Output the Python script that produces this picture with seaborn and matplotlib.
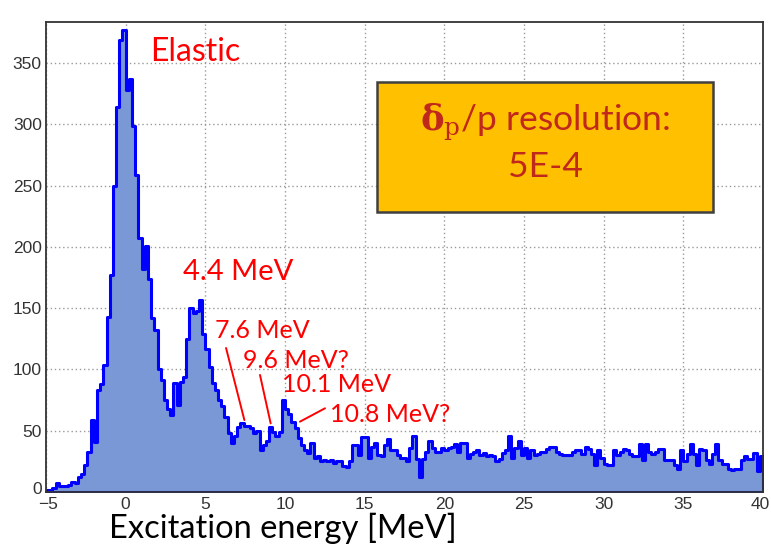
import numpy as np
import pandas as pd
import matplotlib
matplotlib.use("Agg")
import matplotlib.pyplot as plt
import matplotlib.transforms as mtransforms
import seaborn as sns
from matplotlib.patches import Rectangle
from matplotlib.ticker import MultipleLocator

# ---- data (counts per 0.2 MeV bin, starting at -5 MeV) ----
bin_start = -5.0
bin_width = 0.2

counts_elastic = [2, 2, 3, 7, 5, 5, 5, 6, 8, 7, 12, 15, 22, 33, 59, 41, 83, 88, 104,
                  143, 177, 250, 314, 369, 377, 328, 337, 299, 259, 207, 182, 201, 174,
                  142, 132, 100, 91, 75, 68, 63, 89, 71, 90, 94, 125, 150, 146, 148,
                  157, 129, 117, 102]
counts_excited = [89, 83, 75, 70, 61, 48, 40, 46, 53, 56,
                  54, 54, 52, 48, 50, 34, 38, 42, 53, 49,
                  46, 49, 75, 68, 64, 57, 52, 44, 38, 34,
                  32, 40, 28, 29, 25, 26, 25, 26, 24, 25,
                  25, 21, 20, 25, 38, 38, 30, 45]
counts_tail_a = [45, 28, 37, 40, 30, 29, 38, 43, 34, 34,
                 30, 28, 28, 25, 36, 46, 27, 12, 27, 33,
                 42, 36, 33, 33, 36, 34, 36, 37, 39, 33,
                 40, 40, 28, 31, 33, 34, 30, 32, 29, 30,
                 29, 25, 27, 32, 34, 46, 28, 36, 42, 30,
                 36, 28, 34, 30, 31, 33, 33, 35, 37, 37,
                 33, 31]
counts_tail_b = [30, 30, 30, 33, 34, 34, 31, 37, 35, 31,
                 22, 34, 28, 23, 22, 22, 34, 30, 33, 35,
                 34, 31, 29, 29, 39, 26, 39, 33, 31, 33,
                 35, 35, 26, 26, 26, 22, 19, 34, 25, 31,
                 39, 31, 22, 35, 34, 26, 23, 31, 39, 26,
                 23, 23, 19, 18, 19, 19, 26, 29, 27, 27,
                 32, 17, 29]

x_ticks = [-5, 0, 5, 10, 15, 20, 25, 30, 35, 40]
y_ticks = [0, 50, 100, 150, 200, 250, 300, 350]

peak_labels = ["Elastic", "4.4 MeV", "7.6 MeV", "9.6 MeV?", "10.1 MeV", "10.8 MeV?"]
peak_label_pos = [(1.53, 352), (3.60, 173), (5.61, 125.6), (7.36, 101), (9.81, 81.6), (12.82, 57)]
peak_label_size = [23, 21, 18, 18, 18, 18]
pointer_lines = [((6.30, 117.5), (7.45, 58.7)),
                 ((8.43, 95.5), (9.10, 56.0)),
                 ((12.51, 68.3), (10.94, 57.4))]

# ---- build ----
counts = np.array(counts_elastic + counts_excited + counts_tail_a + counts_tail_b, dtype=float)
n = len(counts)
edges = [round(bin_start + bin_width * i, 6) for i in range(n + 1)]
centers = [e + bin_width / 2 for e in edges[:-1]]
df = pd.DataFrame({"E": centers, "N": counts})

sns.set_theme(style="white")
plt.rcParams['font.family'] = ['Liberation Sans', 'DejaVu Sans']
plt.rcParams['mathtext.fontset'] = 'dejavuserif'

W, H = 771, 552
fig = plt.figure(figsize=(W / 100, H / 100), dpi=100)
fig.patch.set_facecolor("white")
ax = fig.add_axes([46 / W, 1 - 492 / H, 717 / W, 470 / H])
ax.set_facecolor("white")

sns.histplot(data=df, x="E", weights="N", bins=edges, element="step", fill=True,
             color="#7a97d6", alpha=1, edgecolor="#0000ff", linewidth=2.2, ax=ax)

ax.set_xlim(-5, 40)
ax.set_ylim(0, 383.5)
ax.set_xlabel("")
ax.set_ylabel("")
ax.set_xticks(x_ticks)
ax.set_yticks(y_ticks)
ax.xaxis.set_minor_locator(MultipleLocator(1))
ax.yaxis.set_minor_locator(MultipleLocator(10))
ax.set_axisbelow(True)
ax.grid(True, which="major", linestyle=(0, (1, 2)), color="#9a9a9a", linewidth=1.0)

ax.tick_params(axis="both", which="both", direction="in", top=False, right=False,
               colors="#333333", labelcolor="#333333", labelsize=12.5)
ax.tick_params(axis="y", which="major", length=11, width=1.3, pad=3)
ax.tick_params(axis="y", which="minor", length=8, width=1.1)
ax.tick_params(axis="x", which="major", length=9.5, width=1.3, pad=3.5)
ax.tick_params(axis="x", which="minor", length=5, width=1.1)
for s in ax.spines.values():
    s.set_visible(True)
    s.set_color("#333333")
    s.set_linewidth(1.3)

# nudge edge tick labels so they stay inside the canvas / apart from each other
fig.canvas.draw()
xlabels = ax.get_xticklabels()
xlabels[-1].set_transform(xlabels[-1].get_transform() +
                          mtransforms.ScaledTranslation(-3 / 100, 0, fig.dpi_scale_trans))
xlabels[0].set_transform(xlabels[0].get_transform() +
                         mtransforms.ScaledTranslation(2 / 100, 0, fig.dpi_scale_trans))
ylabels = ax.get_yticklabels()
ylabels[0].set_transform(ylabels[0].get_transform() +
                         mtransforms.ScaledTranslation(0, 4 / 100, fig.dpi_scale_trans))

fig.text(109 / W, 1 - 538 / H, "Excitation energy [MeV]", fontsize=23.5,
         family=['Lato', 'DejaVu Sans'], ha="left", va="baseline", color="black")

for lab, (xx, yy), fs in zip(peak_labels, peak_label_pos, peak_label_size):
    ax.text(xx, yy, lab, color="#ff0000", fontsize=fs, family=['Lato', 'DejaVu Sans'],
            ha="left", va="baseline", zorder=5)
for (p0, p1) in pointer_lines:
    ax.plot([p0[0], p1[0]], [p0[1], p1[1]], color="#ff0000", linewidth=1.4, zorder=5)

x0 = (377 - 46) / 717
x1 = (713 - 46) / 717
y0 = (492 - 212) / 470
y1 = (492 - 82) / 470
ax.add_patch(Rectangle((x0, y0), x1 - x0, y1 - y0, transform=ax.transAxes,
                       facecolor="#ffc000", edgecolor="#404040", linewidth=1.8, zorder=6))
xc = (545 - 46) / 717
ax.text(xc, (492 - 130) / 470, r"$\mathbf{\delta}_{\mathrm{p}}$/p resolution:",
        transform=ax.transAxes, ha="center", va="baseline", fontsize=25.5,
        color="#c0281c", family=['Lato', 'DejaVu Sans'], zorder=7)
ax.text(xc, (492 - 177) / 470, "5E-4", transform=ax.transAxes, ha="center",
        va="baseline", fontsize=25.5, color="#c0281c", family=['Lato', 'DejaVu Sans'], zorder=7)

fig.savefig("out.png", dpi=100, facecolor="white")
